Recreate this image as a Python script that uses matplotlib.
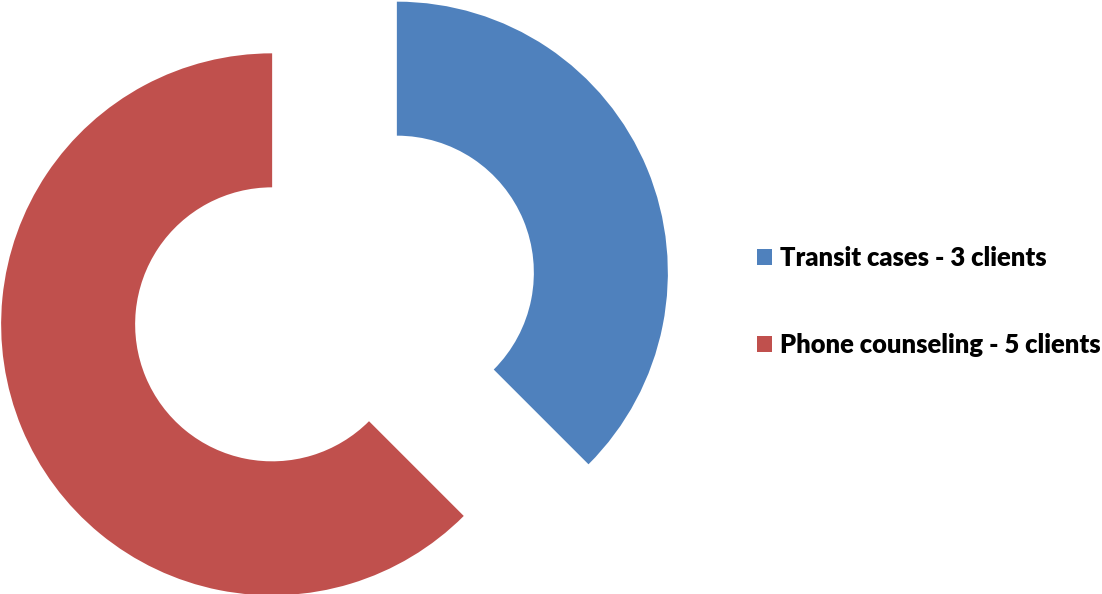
import matplotlib
matplotlib.use("Agg")
import matplotlib.pyplot as plt
from matplotlib.patches import Patch

# data
labels = ["Transit cases - 3 clients", "Phone counseling - 5 clients"]
values = [3, 5]
colors = ["#4F81BD", "#C0504D"]

W, H = 1102, 594
fig = plt.figure(figsize=(W / 100, H / 100), dpi=100)
ax = fig.add_axes([0, 0, 1, 1])
ax.set_xlim(0, W)
ax.set_ylim(0, H)
ax.set_aspect("equal")
ax.axis("off")

R = 271
wedges, _ = ax.pie(values, colors=colors, startangle=90, counterclock=False,
                   center=(334.5, H - 298.5), radius=R,
                   explode=[67.5, 67.5],
                   wedgeprops=dict(width=134, linewidth=0))
ax.set_xlim(0, W)
ax.set_ylim(0, H)

handles = [Patch(facecolor=c, edgecolor="none") for c in colors]
fig.legend(handles, labels, loc="center left", bbox_to_anchor=(757 / W, 1 - 301.5 / H),
           frameon=False, handlelength=0.6, handleheight=0.6, handletextpad=0.3,
           labelspacing=2.45, borderpad=0, borderaxespad=0,
           prop=dict(family="Lato", weight="heavy", size=18.4))

fig.savefig("out.png", dpi=100)
